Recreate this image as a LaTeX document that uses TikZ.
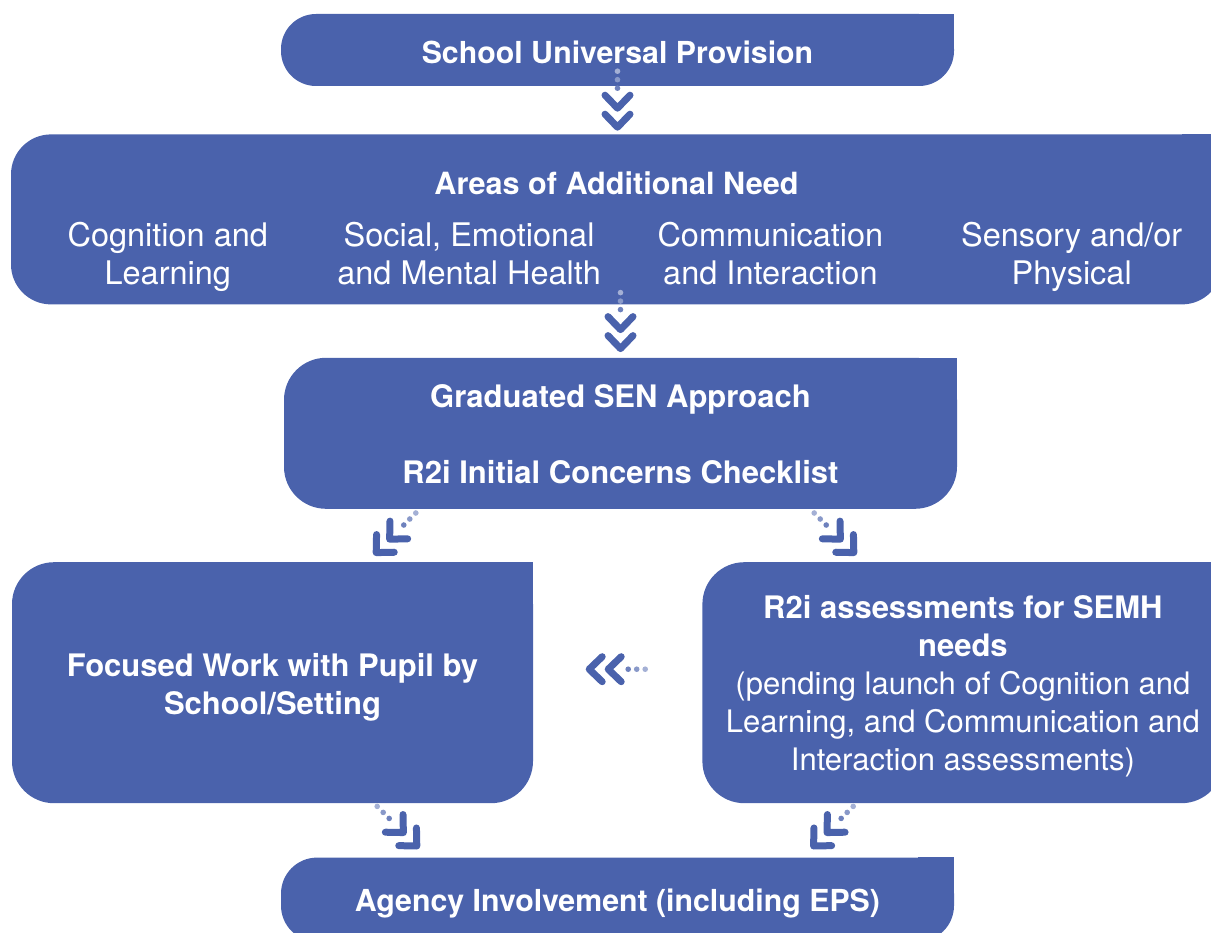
\documentclass[tikz,border=0pt]{standalone}
\usepackage{fontspec}
\setmainfont{TeX Gyre Heros}
\usepackage{tikz}
\usetikzlibrary{positioning, calc}
\definecolor{senBlue}{RGB}{74, 98, 172}

% taller first line, so the text sits a little low in its box
\newcommand{\dropby}[1]{\rule{0pt}{#1}}

% dotted trail followed by a double chevron, pointing down
\tikzset{
  pics/chevtrail/.style={code={
    \fill[senBlue!50] (0,0) circle (2.8);
    \fill[senBlue!65] (0,-8.5) circle (2.8);
    \fill[senBlue!80] (0,-17) circle (2.8);
    \draw[chevron] (-12.5,-24) -- (0,-37) -- (12.5,-24);
    \draw[chevron] (-12.5,-43) -- (0,-56) -- (12.5,-43);
  }}
}

\begin{document}
\begin{tikzpicture}[
    x=1pt, y=1pt,
    box/.style={
      rectangle, fill=senBlue, rounded corners=42pt, inner sep=0pt,
      text=white, align=center, font=\fontsize{31}{38}\selectfont\bfseries
    },
    areahead/.style={text=white, inner sep=0pt, font=\fontsize{30.6}{38}\selectfont\bfseries},
    areatext/.style={
      text=white, align=center, inner sep=0pt, font=\fontsize{32.5}{38}\selectfont,
      execute at begin node=\strut, execute at end node=\strut
    },
    chevron/.style={draw=senBlue, line width=7pt, line cap=round, line join=round}
  ]
    \useasboundingbox (0,0) rectangle (1211,-933);
    \clip (0,0) rectangle (1211,-933);

    % Top level
    \node[box, minimum width=673pt, minimum height=72pt, rounded corners=35pt,
      font=\fontsize{30.3}{38}\selectfont\bfseries]
      (univ) at (617.5,-50) {\dropby{26.5pt}School Universal Provision};

    % Areas of need
    \node[box, minimum width=1211pt, minimum height=170pt, rounded corners=40pt,
      below=48pt of univ, xshift=-1pt] (areas) {};
    \node[areahead, anchor=base] (areashead) at ($(areas.north)+(0,-60)$)
      {Areas of Additional Need};
    \foreach \name/\i/\txt in {cogn/0/{Cognition and\\Learning},
        semh/1/{Social, Emotional\\and Mental Health},
        comm/2/{Communication\\and Interaction},
        sens/3/{Sensory and/or\\Physical}}
      \node[areatext] (\name) at ($(areas.south west)+(157+301.3*\i,45.5)$) {\txt};

    % Graduated approach
    \node[box, minimum width=673pt, minimum height=151pt, below=53pt of areas, xshift=4pt]
      (grad) {\dropby{25.5pt}Graduated SEN Approach\\[38pt]R2i Initial Concerns Checklist};

    % Two routes
    \node[box, minimum width=521pt, minimum height=241pt, anchor=north west]
      (focus) at ($(areas.west |- grad.south)+(1,-53)$)
      {\dropby{32.5pt}Focused Work with Pupil by\\School/Setting};
    \node[box, minimum width=521pt, minimum height=241pt, font=\fontsize{31}{38}\selectfont,
      right=169pt of focus] (assess)
      {\dropby{29.5pt}\textbf{R2i assessments for SEMH}\\\textbf{needs}\\(pending launch of Cognition and\\Learning, and Communication and\\Interaction assessments)};

    % Bottom level
    \node[box, minimum width=673pt, minimum height=84pt, rounded corners=36pt, anchor=north,
      font=\fontsize{30.3}{38}\selectfont\bfseries]
      (agency) at ($(univ |- focus.south)+(0,-54)$) {\dropby{30.5pt}Agency Involvement (including EPS)};

    % square off the top right corner of each box
    \foreach \n/\r in {univ/35, areas/40, grad/42, focus/42, assess/42, agency/36}
      \fill[senBlue] (\n.north east) rectangle ++(-\r,-\r);

    % Links
    \pic at ($(univ.south)+(0,15)$) {chevtrail};
    \pic at ($(areas.south)+(4,12)$) {chevtrail};
    \pic[rotate=-45] at ($(grad.south west)+(132,-4)$) {chevtrail};
    \pic[rotate=45] at ($(grad.south east)+(-143,-4)$) {chevtrail};
    \pic[rotate=-90] at ($(assess.west)+(-57,13.5)$) {chevtrail};
    \pic[rotate=45] at ($(focus.south east)+(-156,-3)$) {chevtrail};
    \pic[rotate=-45] at ($(assess.south west)+(151,-3)$) {chevtrail};
  \end{tikzpicture}
\end{document}
